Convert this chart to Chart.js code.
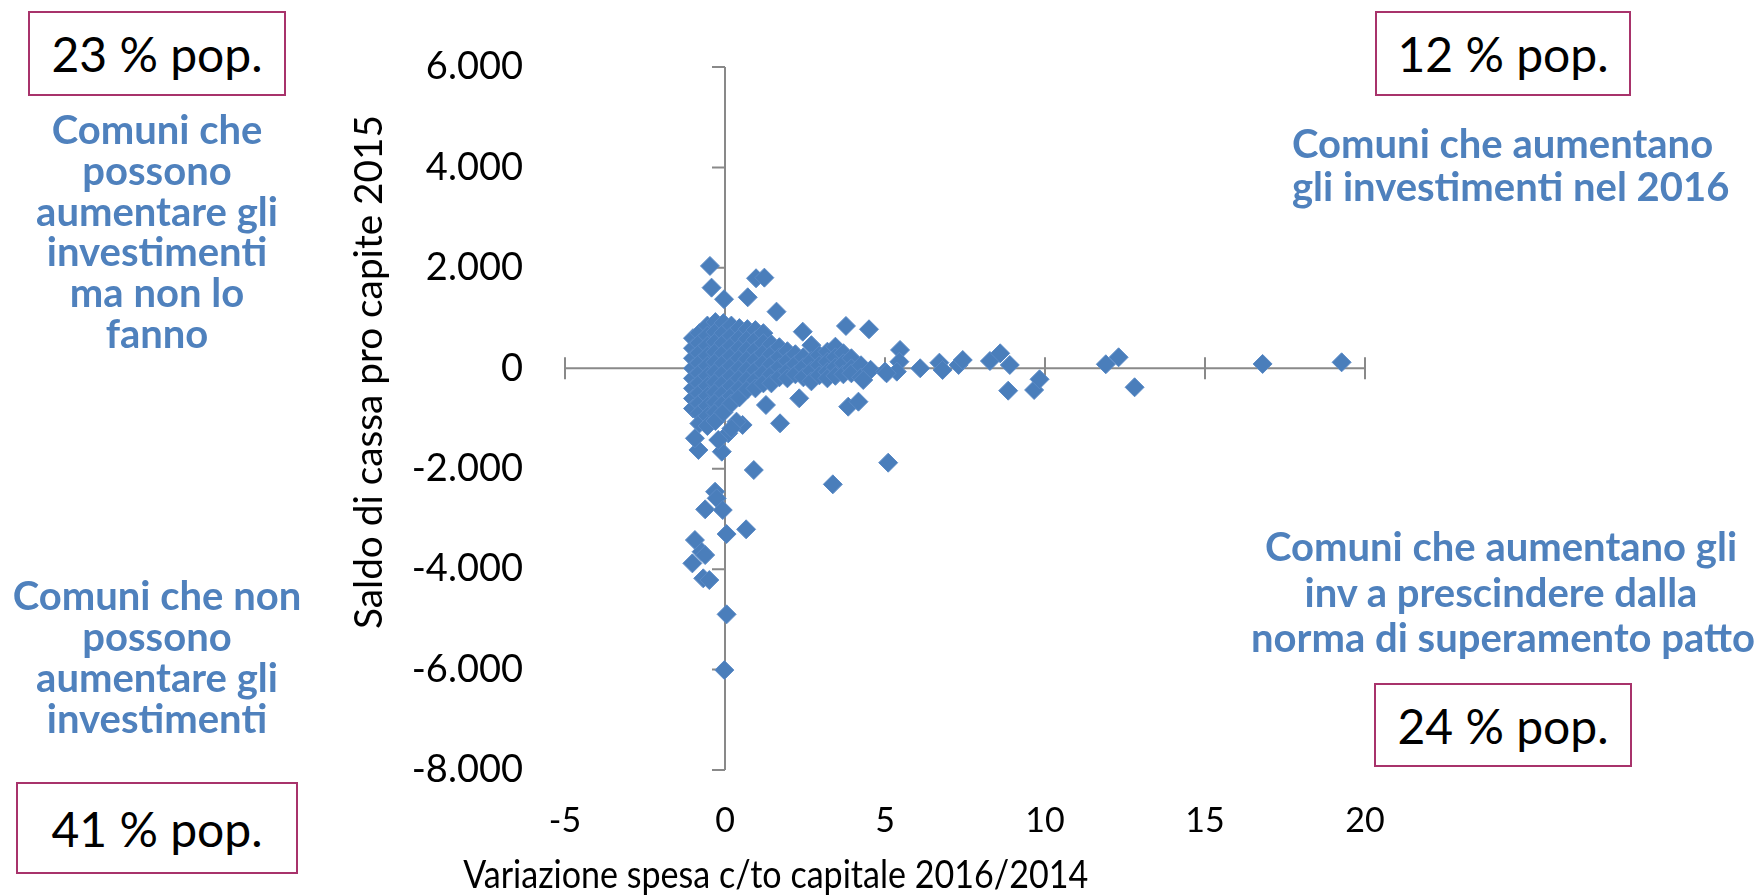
<!DOCTYPE html>
<html lang="it">
<head>
<meta charset="utf-8">
<title>Saldo di cassa e variazione spesa c/to capitale</title>
<script src="https://cdn.jsdelivr.net/npm/chart.js@4.4.1/dist/chart.umd.min.js"></script>
<style>
  html, body { margin: 0; padding: 0; background: #fff; }
  #contenitore { position: relative; width: 1762px; height: 895px; }
  #grafico { position: absolute; left: 0; top: 0; }
  .box {
    position: absolute; box-sizing: border-box;
    border: 2px solid #A8336B; background: #fff;
    display: flex; align-items: center; justify-content: center;
    font-family: Lato, sans-serif; font-size: 48px; color: #000;
  }
  .nota {
    position: absolute; text-align: center; white-space: nowrap;
    color: #4F81BD; font-family: Lato, sans-serif; font-weight: bold; font-size: 40px;
  }
  .titolo {
    position: absolute; white-space: nowrap; color: #000;
    font-family: Lato, sans-serif; font-size: 38px; line-height: 38px;
    transform-origin: 50% 50%;
  }
</style>
</head>
<body>
<div id="contenitore">
  <canvas id="grafico" width="1762" height="895"></canvas>

  <div class="box" style="left:28px; top:11px; width:258px; height:85px;">23 % pop.</div>
  <div class="box" style="left:1375px; top:11px; width:256px; height:85px;">12 % pop.</div>
  <div class="box" style="left:16px; top:782px; width:282px; height:92px;">41 % pop.</div>
  <div class="box" style="left:1374px; top:683px; width:258px; height:84px;">24 % pop.</div>

  <div class="nota" style="left:0px; top:109px; width:314px; line-height:40.8px;">Comuni che<br>possono<br>aumentare gli<br>investimenti<br>ma non lo<br>fanno</div>
  <div class="nota" style="left:1292px; top:122px; width:400px; line-height:43px;">Comuni che aumentano<br>gli investimenti nel 2016</div>
  <div class="nota" style="left:0px; top:575px; width:314px; line-height:40.9px;">Comuni che non<br>possono<br>aumentare gli<br>investimenti</div>
  <div class="nota" style="left:1251px; top:524px; width:500px; line-height:45.5px;">Comuni che aumentano gli<br>inv a prescindere dalla<br>norma di superamento patto</div>

  <div class="titolo" id="titoloX">Variazione spesa c/to capitale 2016/2014</div>
  <div class="titolo" id="titoloY">Saldo di cassa pro capite 2015</div>
</div>

<script>
// nucleo denso (comuni vicini allo zero), letto colonna per colonna
const nucleoX = [
  -1.0, -1.0, -1.0, -1.0, -1.0, -1.0, -1.0, -1.0,
  -0.8, -0.8, -0.8, -0.8, -0.8, -0.8, -0.8, -0.8, -0.8, -0.8,
  -0.55, -0.55, -0.55, -0.55, -0.55, -0.55, -0.55, -0.55, -0.55, -0.55, -0.55,
  -0.3, -0.3, -0.3, -0.3, -0.3, -0.3, -0.3, -0.3, -0.3, -0.3, -0.3,
  -0.05, -0.05, -0.05, -0.05, -0.05, -0.05, -0.05, -0.05, -0.05, -0.05,
  0.2, 0.2, 0.2, 0.2, 0.2, 0.2, 0.2, 0.2, 0.2,
  0.45, 0.45, 0.45, 0.45, 0.45, 0.45, 0.45, 0.45,
  0.7, 0.7, 0.7, 0.7, 0.7, 0.7, 0.7,
  0.95, 0.95, 0.95, 0.95, 0.95, 0.95, 0.95,
  1.2, 1.2, 1.2, 1.2, 1.2, 1.2,
  1.45, 1.45, 1.45, 1.45, 1.45,
  1.7, 1.7, 1.7, 1.7,
  1.95, 1.95, 1.95, 1.95,
  2.2, 2.2, 2.2,
  2.45, 2.45, 2.45,
  2.7, 2.7, 2.7, 2.7,
  2.95, 2.95, 2.95,
  3.2, 3.2, 3.2, 3.2,
  3.45, 3.45, 3.45, 3.45,
  3.7, 3.7, 3.7,
  3.95, 3.95, 3.95,
  4.25, 4.25,
  4.55
];
const nucleoY = [
  600, 400, 200, 0, -200, -400, -600, -800,
  700, 500, 300, 100, -100, -300, -500, -700, -900, -1100,
  850, 650, 450, 250, 50, -150, -350, -550, -750, -950, -1150,
  920, 720, 520, 320, 120, -80, -280, -480, -680, -880, -1050,
  900, 700, 500, 300, 100, -100, -300, -500, -700, -880,
  850, 650, 450, 250, 50, -150, -350, -550, -700,
  800, 600, 400, 200, 0, -200, -400, -580,
  780, 580, 380, 180, -20, -220, -420,
  760, 560, 360, 160, -40, -240, -400,
  700, 500, 300, 100, -100, -300,
  480, 280, 80, -120, -300,
  420, 220, 20, -180,
  340, 140, -60, -200,
  280, 80, -120,
  220, 20, -180,
  460, 150, -50, -260,
  260, 60, -140,
  330, 130, -70, -200,
  430, 220, 20, -150,
  300, 100, -120,
  200, 0, -100,
  60, -180,
  -30
];

// comuni isolati
const esterniX = [
  -0.47, -0.42, -0.03, 0.97, 1.23, 0.71, 1.61, 2.43, 3.78, 4.5,
  5.47, 5.45, 5.0, 5.37, 6.1, 6.7, 6.8, 7.3, 7.43, 8.28,
  8.6, 8.9, 8.85, 9.66, 9.83, 11.9, 12.3, 12.8, 16.8, 19.27,
  5.05, 4.32, 3.85, 4.17, 2.32, 1.28, 1.72, 0.55, 0.9, 3.37,
  5.1, -0.31, -0.83, -0.1, -0.94, 0.1, 0.36, -0.21, 0.2,
  -0.26, -0.62, -0.07, 0.05, 0.66, -0.94, -0.73, -0.62, -1.02, -0.68,
  -0.49, 0.05, -0.02
];
const esterniY = [
  2038, 1606, 1375, 1793, 1805, 1414, 1128, 729, 843, 777,
  365, 131, -67, -67, 0, 112, -34, 66, 165, 145,
  298, 66, -446, -432, -219, 80, 219, -378, 86, 119,
  -100, -233, -765, -665, -598, -731, -1096, -1129, -2026, -2311,
  -1880, -2458, -1627, -1661, -1394, -1295, -1063, -1428, -1200,
  -2590, -2809, -2823, -3301, -3207, -3420, -3653, -3719, -3885, -4183,
  -4217, -4900, -6010
];

const xTicks = [-5, 0, 5, 10, 15, 20];
const yTicks = [-8000, -6000, -4000, -2000, 0, 2000, 4000, 6000];

const tuttiX = nucleoX.concat(esterniX);
const tuttiY = nucleoY.concat(esterniY);
const punti = tuttiX.map((v, i) => ({ x: v, y: tuttiY[i] }));

function migliaconpunto(v) {
  const s = Math.abs(v).toString().replace(/\B(?=(\d{3})+(?!\d))/g, '.');
  return (v < 0 ? '-' : '') + s;
}

// titoli degli assi: un po' stretti come nell'originale, e non centrati sull'area del grafico
function piazzaTitolo(el, cx, cy, lunghezza, ruota) {
  const r = el.getBoundingClientRect();
  el.style.left = (cx - r.width / 2) + 'px';
  el.style.top = (cy - r.height / 2) + 'px';
  el.style.transform = (ruota ? 'rotate(-90deg) ' : '') + 'scaleX(' + (lunghezza / r.width) + ')';
}

// assi che si incrociano nello zero, come nel grafico originale
const assiIncrociati = {
  id: 'assiIncrociati',
  beforeDatasetsDraw(chart) {
    const { ctx, scales: { x, y } } = chart;
    const x0 = x.getPixelForValue(0);
    const y0 = y.getPixelForValue(0);
    ctx.save();
    ctx.strokeStyle = '#898989';
    ctx.lineWidth = 2;
    ctx.beginPath();
    ctx.moveTo(x0, y.top);
    ctx.lineTo(x0, y.bottom);
    yTicks.forEach(t => {
      const py = y.getPixelForValue(t);
      ctx.moveTo(x0 - 13, py);
      ctx.lineTo(x0, py);
    });
    ctx.moveTo(x.left, y0);
    ctx.lineTo(x.right, y0);
    xTicks.forEach(t => {
      const px = x.getPixelForValue(t);
      ctx.moveTo(px, y0 - 11);
      ctx.lineTo(px, y0 + 11);
    });
    ctx.stroke();
    ctx.restore();
  }
};

const ctx = document.getElementById('grafico').getContext('2d');

new Chart(ctx, {
  type: 'scatter',
  data: {
    datasets: [{
      label: 'Comuni',
      data: punti,
      pointStyle: 'rectRot',
      pointRadius: 9.5,
      backgroundColor: '#4A7EBB',
      borderColor: '#5A8AC6',
      borderWidth: 1
    }]
  },
  options: {
    responsive: false,
    animation: false,
    devicePixelRatio: 1,
    layout: { padding: { left: 330, right: 397, top: 67, bottom: 0 } },
    plugins: {
      legend: { display: false },
      tooltip: { enabled: false }
    },
    scales: {
      x: {
        type: 'linear',
        min: -5,
        max: 20,
        afterBuildTicks: s => { s.ticks = xTicks.map(v => ({ value: v })); },
        afterFit: s => { s.height = 125; },
        grid: { display: false, drawTicks: false },
        border: { display: false },
        ticks: {
          padding: 31,
          color: '#000',
          font: { family: 'Lato, sans-serif', size: 34 }
        }
      },
      y: {
        type: 'linear',
        min: -8000,
        max: 6000,
        afterBuildTicks: s => { s.ticks = yTicks.map(v => ({ value: v })); },
        afterFit: s => { s.width = 235; },
        grid: { display: false, drawTicks: false },
        border: { display: false },
        ticks: {
          padding: 42,
          color: '#000',
          callback: v => migliaconpunto(v),
          font: { family: 'Lato, sans-serif', size: 38 }
        }
      }
    }
  },
  plugins: [assiIncrociati]
});

piazzaTitolo(document.getElementById('titoloX'), 776, 873, 625, false);
piazzaTitolo(document.getElementById('titoloY'), 367, 372, 514, true);
</script>
</body>
</html>
